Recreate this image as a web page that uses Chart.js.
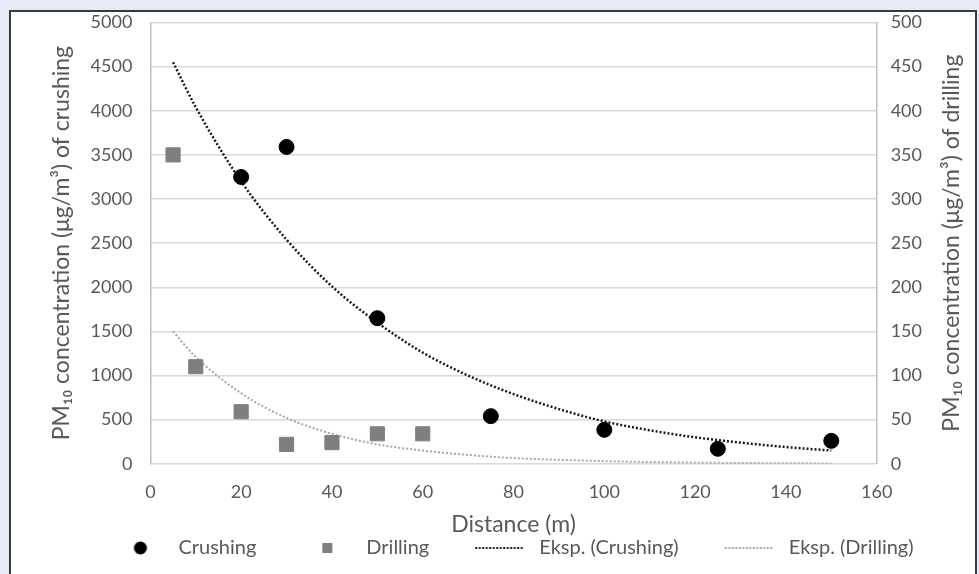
<!DOCTYPE html>
<html>
<head>
<meta charset="utf-8">
<script src="https://cdn.jsdelivr.net/npm/chart.js@4"></script>
<style>
  body { margin: 0; background: #e8ebf7; }
  #moldura { position: absolute; left: 9px; top: 10px; width: 964px; height: 570px; border: 2px solid #3a3a3a; background: #fff; }
  #grafico { position: absolute; left: 0; top: 0; }
</style>
</head>
<body>
<div id="moldura"></div>
<canvas id="grafico" width="979" height="574"></canvas>
<script>
var distCrushing = [20, 30, 50, 75, 100, 125, 150];
var valCrushing = [3250, 3590, 1650, 540, 385, 170, 260];

var distDrilling = [5, 10, 20, 30, 40, 50, 60];
var valDrilling = [350, 110, 59, 22, 24, 34, 34];

// linhas de tendencia exponencial
var distTrend = [5, 10, 20, 30, 40, 50, 60, 70, 80, 90, 100, 110, 120, 130, 140, 150];
var trendCrushing = [4550, 4040, 3200, 2540, 2010, 1600, 1260, 1000, 790, 620, 480, 380, 300, 240, 190, 150];
var trendDrilling = [150, 121, 80, 52, 34, 22, 15, 10, 6.5, 4.5, 3, 2, 1.3, 0.9, 0.6, 0.4];

var xTicks = [0, 20, 40, 60, 80, 100, 120, 140, 160];
var legendas = ['Crushing', 'Drilling', 'Eksp. (Crushing)', 'Eksp. (Drilling)'];
var tituloEsq = 'PM₁₀ concentration (μg/m³) of crushing';
var tituloDir = 'PM₁₀ concentration (μg/m³) of drilling';

var corTexto = '#595959';
var fonte = 'Lato';
var larguraIcone = 98;

function pares(xs, ys) {
    return xs.map((x, i) => ({ x: x, y: ys[i] }));
}

function icone(tipo, cor) {
    var c = document.createElement('canvas');
    c.width = larguraIcone;
    c.height = 20;
    var g = c.getContext('2d');
    g.fillStyle = cor;
    g.strokeStyle = cor;
    if (tipo == 'circle') {
        g.beginPath();
        g.arc(70, 10, 6.5, 0, Math.PI * 2);
        g.fill();
    } else if (tipo == 'rect') {
        g.fillRect(64, 5, 10, 10);
    } else {
        g.lineWidth = 2;
        g.setLineDash([2, 1.5]);
        g.beginPath();
        g.moveTo(44, 10);
        g.lineTo(92, 10);
        g.stroke();
    }
    return c;
}

var icones = [icone('circle', '#000'), icone('rect', '#7f7f7f'), icone('line', '#1a1a1a'), icone('line', '#a6a6a6')];

// titulo do eixo direito lido de baixo para cima, como no original
var tituloDireito = {
    id: 'tituloDireito',
    afterDraw: function(ch) {
        var c = ch.ctx;
        var area = ch.chartArea;
        c.save();
        c.translate(952, (area.top + area.bottom) / 2);
        c.rotate(-Math.PI / 2);
        c.font = '23px ' + fonte;
        c.fillStyle = corTexto;
        c.textAlign = 'center';
        c.textBaseline = 'middle';
        c.fillText(tituloDir, 0, 0);
        c.restore();
    }
};

var ctx = document.getElementById('grafico');
var chart = new Chart(ctx, {
    type: 'scatter',
    data: {
        datasets: [{
            label: legendas[0],
            data: pares(distCrushing, valCrushing),
            yAxisID: 'y',
            pointStyle: 'circle',
            pointRadius: 7.5,
            backgroundColor: '#000',
            borderColor: '#000',
            order: 1
        }, {
            label: legendas[1],
            data: pares(distDrilling, valDrilling),
            yAxisID: 'y2',
            pointStyle: 'rect',
            pointRadius: 10,
            backgroundColor: '#7f7f7f',
            borderColor: '#7f7f7f',
            order: 2
        }, {
            label: legendas[2],
            type: 'line',
            data: pares(distTrend, trendCrushing),
            yAxisID: 'y',
            borderColor: '#1a1a1a',
            borderWidth: 2.5,
            borderDash: [2, 2],
            pointRadius: 0,
            cubicInterpolationMode: 'monotone',
            fill: false,
            order: 3
        }, {
            label: legendas[3],
            type: 'line',
            data: pares(distTrend, trendDrilling),
            yAxisID: 'y2',
            borderColor: '#a6a6a6',
            borderWidth: 2,
            borderDash: [2, 2],
            pointRadius: 0,
            cubicInterpolationMode: 'monotone',
            fill: false,
            order: 4
        }]
    },
    options: {
        responsive: false,
        animation: false,
        layout: {
            padding: { left: 48, right: 43, top: 0, bottom: 6 }
        },
        plugins: {
            tooltip: { enabled: false },
            legend: {
                position: 'bottom',
                labels: {
                    usePointStyle: true,
                    pointStyleWidth: larguraIcone,
                    padding: 2,
                    color: corTexto,
                    font: { family: fonte, size: 20 },
                    generateLabels: function(ch) {
                        return legendas.map((t, i) => ({
                            text: t,
                            pointStyle: icones[i],
                            fillStyle: 'transparent',
                            strokeStyle: 'transparent',
                            lineWidth: 0,
                            fontColor: corTexto,
                            datasetIndex: i
                        }));
                    }
                }
            }
        },
        scales: {
            x: {
                type: 'linear',
                min: 0,
                max: 160,
                afterBuildTicks: function(ax) {
                    ax.ticks = xTicks.map(v => ({ value: v }));
                },
                grid: { display: false, drawTicks: false },
                border: { display: false },
                ticks: {
                    color: corTexto,
                    padding: 18,
                    font: { family: fonte, size: 18 },
                    callback: v => String(v)
                },
                title: {
                    display: true,
                    text: 'Distance (m)',
                    color: corTexto,
                    padding: { top: -11, bottom: -2 },
                    font: { family: fonte, size: 23 }
                }
            },
            y: {
                position: 'left',
                min: 0,
                max: 5000,
                ticks: {
                    stepSize: 500,
                    color: corTexto,
                    padding: 18,
                    font: { family: fonte, size: 18, lineHeight: 0.5 },
                    callback: v => String(v)
                },
                grid: { color: '#d9d9d9', lineWidth: 1.5, drawTicks: false },
                border: { display: true, color: '#bfbfbf', width: 1.5 },
                title: {
                    display: true,
                    text: tituloEsq,
                    color: corTexto,
                    padding: { top: 0, bottom: -3 },
                    font: { family: fonte, size: 23 }
                }
            },
            y2: {
                position: 'right',
                min: 0,
                max: 500,
                ticks: {
                    stepSize: 50,
                    color: corTexto,
                    padding: 14,
                    font: { family: fonte, size: 18, lineHeight: 0.5 },
                    callback: v => String(v)
                },
                grid: { drawOnChartArea: false, drawTicks: false },
                border: { display: true, color: '#bfbfbf', width: 1.5 }
            }
        }
    },
    plugins: [tituloDireito]
});
</script>
</body>
</html>
